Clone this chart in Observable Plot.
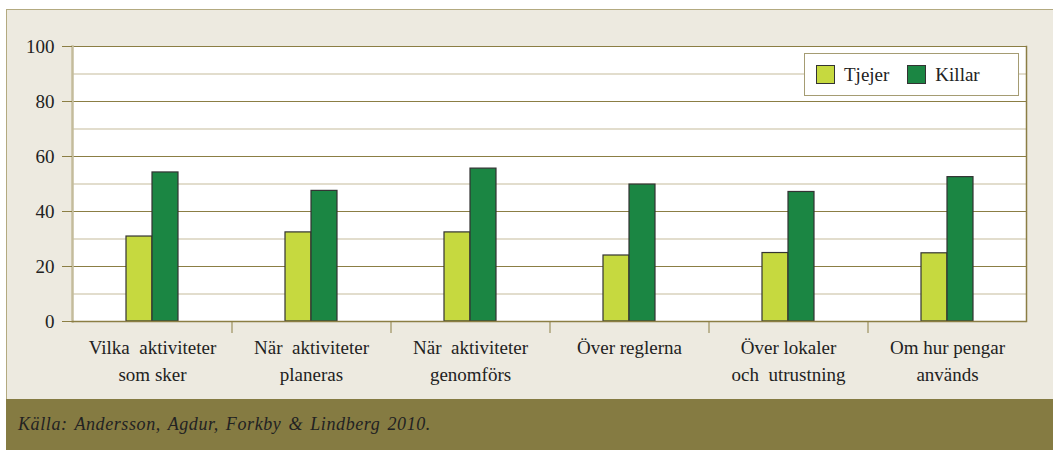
<!DOCTYPE html>
<html>
<head>
<meta charset="utf-8">
<script src="https://cdn.jsdelivr.net/npm/d3@7"></script>
<script src="https://cdn.jsdelivr.net/npm/@observablehq/plot@0.6"></script>
<style>
  body { margin: 0; background: #ffffff; width: 1053px; height: 450px; overflow: hidden; position: relative; }
  #box { position: absolute; left: 6px; top: 9px; width: 1047px; height: 441px; background: #EDEAE0; border-top: 1px solid #B3AA80; border-left: 1px solid #B3AA80; box-sizing: border-box; }
  #chart { position: absolute; left: 0; top: 0; }
  #footer { position: absolute; left: 6px; top: 399px; width: 1047px; height: 51px; background: #857B42; color: #222; font-style: italic; font-size: 18px; letter-spacing: 0.6px; word-spacing: 2px; line-height: 51px; padding-left: 12px; box-sizing: border-box; }
  #legend { position: absolute; left: 804px; top: 53px; width: 215px; height: 43px; background: #fff; border: 1px solid #A59C73; box-sizing: border-box; display: flex; align-items: center; padding-left: 11px; font-size: 19px; color: #222; }
  .sw { width: 19px; height: 19px; border: 1px solid #333; box-sizing: border-box; margin-right: 9px; }
  .item { display: flex; align-items: center; margin-right: 18px; }
  .serif, .serif * { font-family: 'Liberation Serif', Times, serif !important; }
</style>
</head>
<body class="serif">
<div id="box"></div>
<div id="chart" class="serif"></div>
<div id="legend" class="serif"></div>
<div id="footer" class="serif">Källa: Andersson, Agdur, Forkby &amp; Lindberg 2010.</div>
<script>
const categories = ["Vilka aktiviteter som sker", "När aktiviteter planeras", "När aktiviteter genomförs", "Över reglerna", "Över lokaler och utrustning", "Om hur pengar används"];
const xLabels = ["Vilka  aktiviteter\nsom sker", "När  aktiviteter\nplaneras", "När  aktiviteter\ngenomförs", "Över reglerna", "Över lokaler\noch  utrustning", "Om hur pengar\nanvänds"];
const series = ["Tjejer", "Killar"];
const tjejer = [30.9, 32.4, 32.4, 24.0, 24.9, 24.8];
const killar = [54.2, 47.5, 55.6, 49.8, 47.1, 52.5];
const colors = ["#C6D93F", "#1B8643"];
const yTicks = [0, 20, 40, 60, 80, 100];
const yMinor = [10, 30, 50, 70, 90];
const yMajor = [20, 40, 60, 80];

const W = 1053, H = 399, ML = 72, MR = 27, MT = 46, MB = 78;
const step = (W - ML - MR) / categories.length;
const barW = step * 52 / 159;
const pInner = 1 - barW / step;

const data = [];
categories.forEach((c, i) => {
  data.push({cat: c, series: "Tjejer", value: tjejer[i]});
  data.push({cat: c, series: "Killar", value: killar[i]});
});

const olive = "#8B7E44";
const chart = Plot.plot({
  width: W, height: H,
  marginLeft: ML, marginRight: MR, marginTop: MT, marginBottom: MB,
  style: {background: "transparent", fontSize: "19px", color: "#222", fontFamily: "'Liberation Serif', Times, serif"},
  x: {domain: categories, paddingInner: pInner, paddingOuter: pInner / 2, label: null},
  y: {domain: [0, 100], label: null},
  color: {domain: series, range: colors},
  marks: [
    Plot.frame({fill: "white", stroke: null}),
    Plot.ruleY(yMinor, {stroke: "#D8D2BC", strokeWidth: 1.5}),
    Plot.ruleY(yMajor, {stroke: olive, strokeWidth: 1}),
    Plot.frame({anchor: "top", stroke: olive}),
    Plot.frame({anchor: "right", stroke: olive, strokeWidth: 1.5}),
    Plot.frame({anchor: "left", stroke: "#C4BC9C", strokeWidth: 2.5}),
    Plot.barY(data.filter(d => d.series === "Tjejer"), {x: "cat", y: "value", fill: "series", stroke: "#333", strokeWidth: 1.2, insetRight: barW / 2}),
    Plot.barY(data.filter(d => d.series === "Killar"), {x: "cat", y: "value", fill: "series", stroke: "#333", strokeWidth: 1.2, insetLeft: barW / 2}),
    Plot.ruleY([0], {stroke: olive, strokeWidth: 1.5}),
    Plot.axisY({ticks: yTicks, tickSize: 10, tickPadding: 8, stroke: olive, fontSize: 19, fill: "#222", label: null}),
    Plot.axisX({ticks: categories.slice(1), tickSize: 12, tickFormat: () => "", dx: -step / 2, stroke: olive, label: null}),
    Plot.axisX({tickSize: 0, tickPadding: 14, fontSize: 19, fill: "#222", lineHeight: 1.4, tickFormat: d => xLabels[categories.indexOf(d)], label: null})
  ]
});
document.getElementById("chart").appendChild(chart);

const legend = document.getElementById("legend");
series.forEach((s, i) => {
  const it = document.createElement("div");
  it.className = "item";
  const sw = document.createElement("div");
  sw.className = "sw";
  sw.style.background = colors[i];
  const t = document.createElement("span");
  t.textContent = s;
  it.appendChild(sw); it.appendChild(t);
  legend.appendChild(it);
});
</script>
</body>
</html>
